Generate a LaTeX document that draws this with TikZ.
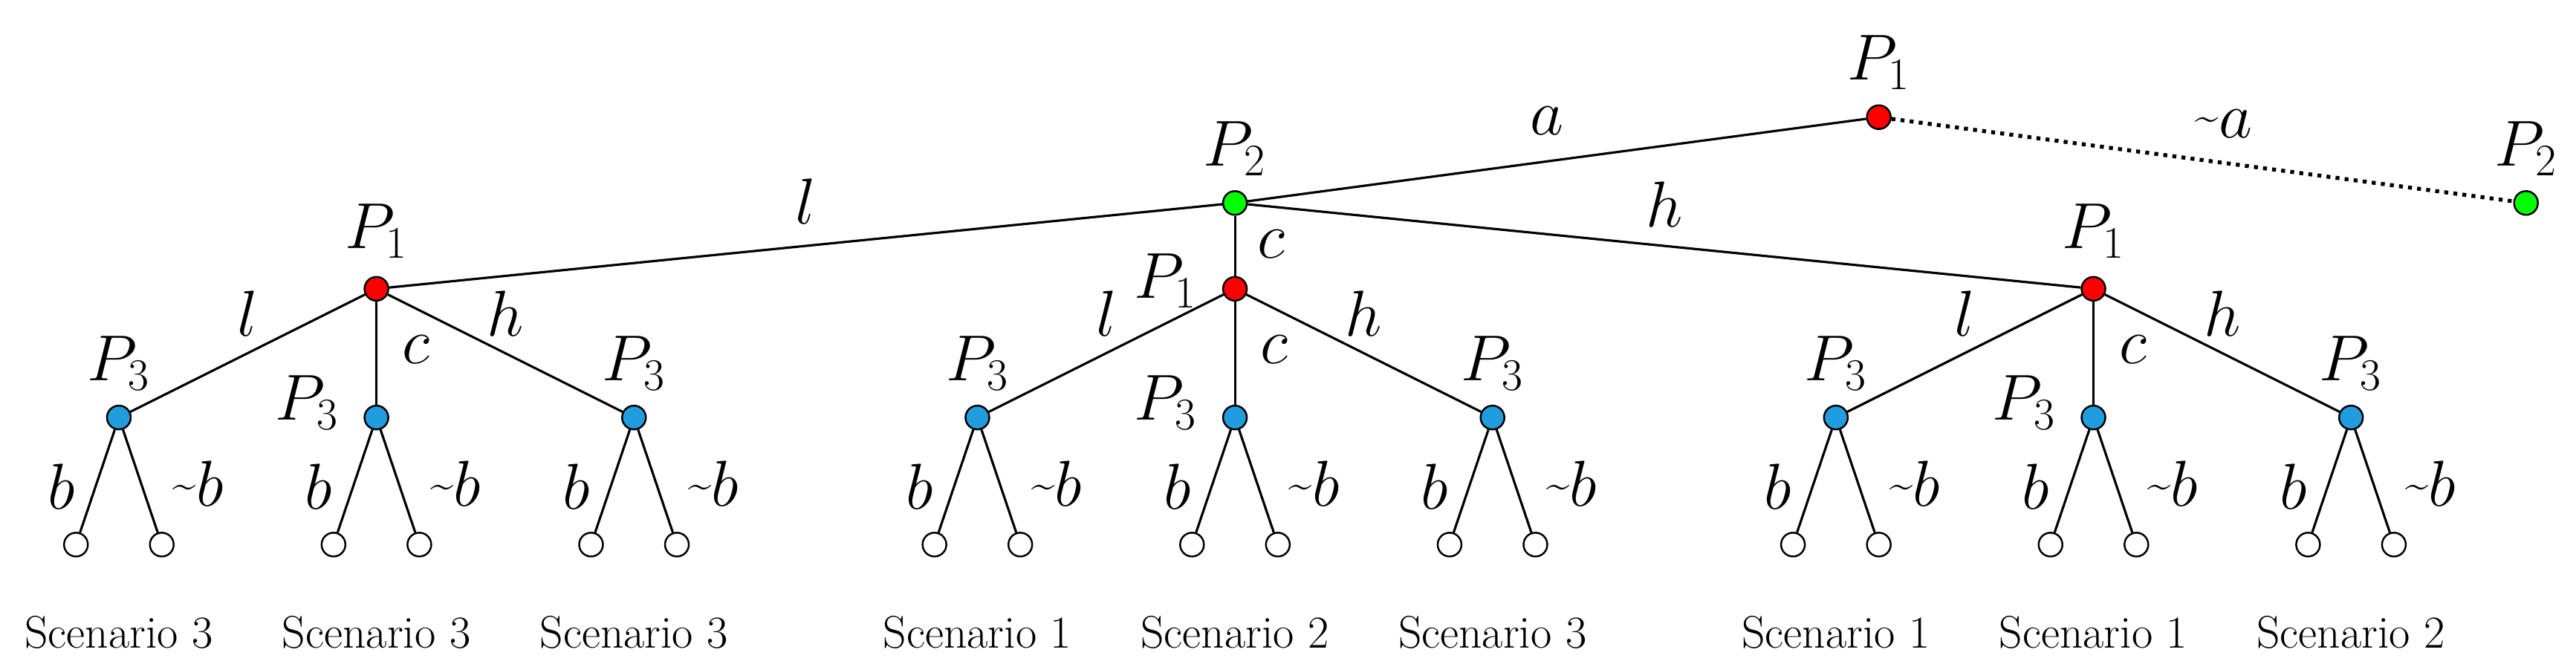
\documentclass[tikz,border=0pt]{standalone}
\newcommand{\mytl}{\raisebox{0.3ex}{\fontsize{16}{16}\selectfont\textasciitilde}}
\begin{document}
\begin{tikzpicture}[x=0.02222cm,y=-0.02222cm,
  dot/.style={circle,draw,line width=0.7pt,minimum size=0.32cm,inner sep=0pt},
  red/.style={dot,fill=red}, grn/.style={dot,fill=green}, blu/.style={dot,fill=cyan!80!blue!90},
  leaf/.style={dot,fill=white},
  edge/.style={line width=0.9pt},
  lab/.style={font=\fontsize{23}{28}\selectfont},
  sc/.style={font=\fontsize{17.5}{20}\selectfont}]
\useasboundingbox (0,0) rectangle (1560.3,400.5);
\node[red] (r) at (1138,71) {};
\node[grn] (p2r) at (1530,123) {};
\node[grn] (p2) at (748,123) {};
\draw[edge] (r) -- (p2);
\draw[line width=1.5pt,dotted] (r) -- (p2r);
\node[lab] at (1138,38) {$P_1$};
\node[lab] at (1530,90) {$P_2$};
\node[lab] at (748,90) {$P_2$};
\node[lab] at (937,73) {$a$};
\node[lab] at (1347,75) {\mytl$a$};
\foreach \g/\x/\sa/\sb/\sc in {A/228/3/3/3,B/748/1/2/3,C/1268/1/1/2}{
  \node[red] (\g) at (\x,175) {};
  \draw[edge] (p2) -- (\g);
  \foreach \k/\dx/\s in {1/-156/\sa,2/0/\sb,3/156/\sc}{
    \node[blu] (\g\k) at (\x+\dx,253) {};
    \draw[edge] (\g) -- (\g\k);
    \node[leaf] (\g\k a) at (\x+\dx-26,330) {};
    \node[leaf] (\g\k b) at (\x+\dx+26,330) {};
    \draw[edge] (\g\k) -- (\g\k a);
    \draw[edge] (\g\k) -- (\g\k b);
    \node[lab] at (\x+\dx-35,295) {$b$};
    \node[lab] at (\x+\dx+48,293) {\mytl$b$};
    \node[sc] at (\x+\dx,383) {Scenario \s};
  }
  \node[lab] at (\x-156,220) {$P_3$};
  \node[lab] at (\x+156,220) {$P_3$};
  \node[lab] at (\x-42,244) {$P_3$};
  \node[lab] at (\x-78,190) {$l$};
  \node[lab] at (\x+78,190) {$h$};
  \node[lab] at (\x+24,212) {$c$};
}
\node[lab] at (228,140) {$P_1$};
\node[lab] at (1268,140) {$P_1$};
\node[lab] at (706,170) {$P_1$};
\node[lab] at (770,148) {$c$};
\node[lab] at (488,122) {$l$};
\node[lab] at (1008,124) {$h$};
\end{tikzpicture}
\end{document}
